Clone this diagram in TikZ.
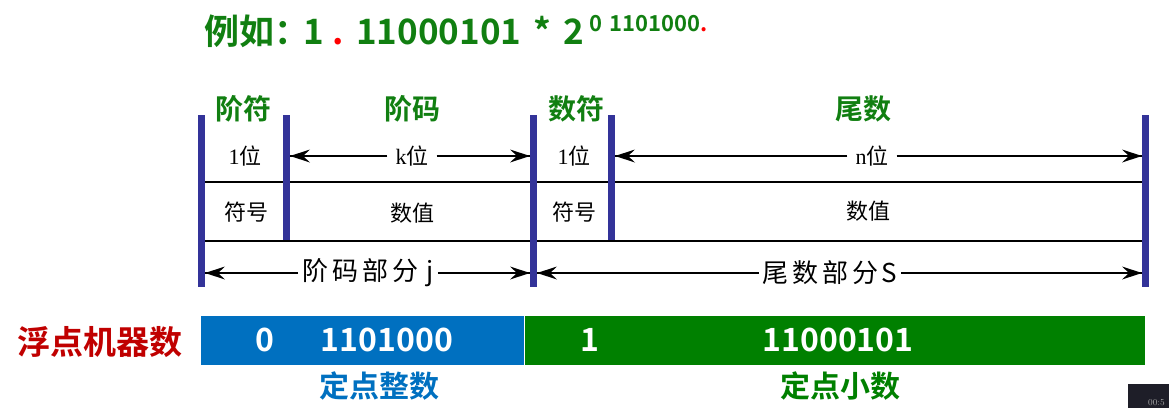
\documentclass[tikz,border=0pt]{standalone}
\usepackage{fontspec}
\newfontfamily\cjk{Noto Sans CJK SC}
\newfontfamily\cjkb{Noto Sans CJK SC Bold}
\newfontfamily\serifl{Liberation Serif}
\definecolor{tgreen}{HTML}{117F11}
\definecolor{navybar}{HTML}{333399}
\definecolor{dred}{HTML}{C00000}
\definecolor{bblue}{HTML}{0070C0}
\definecolor{bgreen}{HTML}{008000}
\definecolor{tred}{HTML}{FF0000}
\tikzset{
  bar/.style={line width=7pt, draw=navybar},
  hline/.style={line width=1.4pt, draw=black},
  dimline/.style={line width=1.5pt, draw=black},
  cell/.style={inner sep=0pt, font=\cjk\fontsize{22}{25}\selectfont},
  span/.style={inner sep=4pt, font=\cjk\fontsize{26}{30}\selectfont},
  glabel/.style={inner sep=0pt, text=tgreen, font=\cjkb\fontsize{28}{32}\selectfont},
  wnum/.style={inner sep=0pt, text=white, font=\cjkb\fontsize{32}{36}\selectfont},
}
% arrowhead: #1 tip coordinate, #2 = 1 (points right) or -1 (points left)
\newcommand\myhead[2]{\fill[black] (#1) -- ++(#2*-20,-6.5) -- ++(#2*7,6.5) -- ++(#2*-7,6.5) -- cycle;}
\begin{document}
\begin{tikzpicture}[x=1pt,y=-1pt]
\useasboundingbox (0,0) rectangle (1169,408);
% title
\node[anchor=base west, inner sep=0pt, text=tgreen, font=\cjkb\fontsize{35}{40}\selectfont] (title) at (204,44)
  {例如：\hspace{-6pt}1\hspace{9pt}{\color{tred}.}\hspace{12pt}11000101\hspace{12pt}*\hspace{12pt}2};
\node[anchor=base west, inner sep=0pt, text=tgreen, font=\cjkb\fontsize{22}{26}\selectfont] (sup) at (589,31)
  {0\hspace{7pt}1101000{\color{tred}.}};
% green labels
\node[glabel] (jf) at (243,109) {阶符};
\node[glabel] (jm) at (412,109) {阶码};
\node[glabel] (sf) at (576,109) {数符};
\node[glabel] (ws) at (863,109) {尾数};
% horizontal lines
\coordinate (h1l) at (201,182); \coordinate (h1r) at (1145,182);
\coordinate (h2l) at (201,241); \coordinate (h2r) at (1145,241);
\draw[hline] (h1l) -- (h1r);
\draw[hline] (h2l) -- (h2r);
% bars
\coordinate (b1t) at (201,115); \coordinate (b1b) at (201,287);
\coordinate (b2t) at (286.5,115); \coordinate (b2b) at (286.5,240);
\coordinate (b3t) at (533.5,115); \coordinate (b3b) at (533.5,287);
\coordinate (b4t) at (611,115); \coordinate (b4b) at (611,240);
\coordinate (b5t) at (1145.5,115); \coordinate (b5b) at (1145.5,287);
\draw[bar] (b1t) -- (b1b);
\draw[bar] (b2t) -- (b2b);
\draw[bar] (b3t) -- (b3b);
\draw[bar] (b4t) -- (b4b);
\draw[bar] (b5t) -- (b5b);
% row 1
\node[cell] (c1) at (245,156) {{\serifl 1}位};
\node[cell, inner sep=8pt] (kb) at (412,156) {{\serifl k}位};
\node[cell] (c3) at (574,156) {{\serifl 1}位};
\node[cell, inner sep=8pt] (nb) at (872,156) {{\serifl n}位};
\coordinate (a1l) at (290,156); \coordinate (a1r) at (530,156);
\coordinate (a2l) at (615,156); \coordinate (a2r) at (1142,156);
\draw[dimline] (kb.west) -- (a1l);
\draw[dimline] (kb.east) -- (a1r);
\draw[dimline] (nb.west) -- (a2l);
\draw[dimline] (nb.east) -- (a2r);
\myhead{a1l}{-1} \myhead{a1r}{1} \myhead{a2l}{-1} \myhead{a2r}{1}
% row 2
\node[cell] (s1) at (246,212) {符号};
\node[cell] (v1) at (412,213) {数值};
\node[cell] (s2) at (574,212) {符号};
\node[cell] (v2) at (868,211) {数值};
% row 3
\node[span] (jj) at (368,273) {阶\hspace{4pt}码\hspace{4pt}部\hspace{4pt}分\hspace{8pt}j};
\node[span] (ss) at (830,273) {尾\hspace{4pt}数\hspace{4pt}部\hspace{4pt}分\hspace{3pt}S};
\coordinate (a3l) at (205,273); \coordinate (a3r) at (530,273);
\coordinate (a4l) at (537,273); \coordinate (a4r) at (1142,273);
\draw[dimline] (jj.west) -- (a3l);
\draw[dimline] (jj.east) -- (a3r);
\draw[dimline] (ss.west) -- (a4l);
\draw[dimline] (ss.east) -- (a4r);
\myhead{a3l}{-1} \myhead{a3r}{1} \myhead{a4l}{-1} \myhead{a4r}{1}
% bottom bar
\node[inner sep=0pt, text=dred, font=\cjkb\fontsize{33}{38}\selectfont] (fd) at (100,342) {浮点机器数};
\fill[bblue] (201,316) rectangle (524,365);
\fill[bgreen] (524,316) rectangle (1145,365);
\draw[white, line width=0.8pt] (524,316) -- (524,365);
\node[wnum] (n0) at (265,340) {0};
\node[wnum] (n1) at (387,340) {1101000};
\node[wnum] (n2) at (590,340) {1};
\node[wnum] (n3) at (838,340) {11000101};
\node[inner sep=0pt, text=bblue, font=\cjkb\fontsize{30}{34}\selectfont] (dz) at (379,386) {定点整数};
\node[inner sep=0pt, text=bgreen, font=\cjkb\fontsize{30}{34}\selectfont] (dx) at (840,386) {定点小数};
% video overlay
\fill[fill={rgb,255:red,30;green,30;blue,40}] (1128,384) rectangle (1169,408);
\node[anchor=base west, inner sep=0pt, text=gray!70, font=\fontsize{9}{10}\selectfont] (tm) at (1148,405) {00:5};
\end{tikzpicture}
\end{document}
